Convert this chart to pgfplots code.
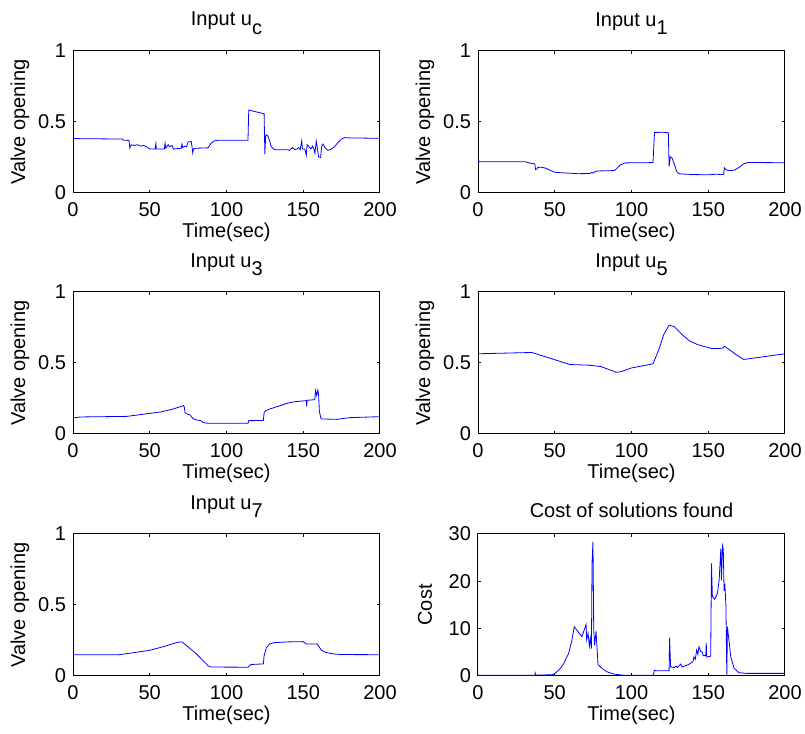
\documentclass[border=0pt]{standalone}
\usepackage{fontspec}
\setmainfont{Liberation Sans}
\usepackage{pgfplots}
\pgfplotsset{compat=1.18}
\definecolor{mblue}{rgb}{0,0,1}
\pgfplotsset{
  mstyle/.style={
    scale only axis, width=153.5pt, height=71pt,
    anchor=south west,
    xmin=0, xmax=200, ymin=0, ymax=1,
    xtick={0,50,100,150,200}, ytick={0,0.5,1},
    tick align=inside, major tick length=1.7pt,
    axis line style={line width=0.5pt},
    every tick/.style={black, line width=0.5pt},
    /pgf/number format/assume math mode=true,
    tick label style={font=\fontsize{10}{12}\selectfont},
    xticklabel style={anchor=base, yshift=-11.8pt},
    every axis title/.style={at={(axis description cs:0.5,1)}, anchor=south, inner sep=0pt, yshift=8pt, font=\fontsize{10}{12}\selectfont},
    every axis x label/.style={at={(axis description cs:0.5,0)}, anchor=base, yshift=-22.5pt, font=\fontsize{10}{12}\selectfont},
    every axis y label/.style={at={(axis description cs:0,0.5)}, xshift=-26.5pt, rotate=90, anchor=center, font=\fontsize{10}{12}\selectfont},
    xlabel={Time(sec)}, ylabel={Valve opening},
    no markers,
    cycle list={{mblue, line width=0.6pt}},
  }
}
\newcommand{\sub}[1]{\raisebox{-4.2pt}{#1}}
\begin{document}
\begin{tikzpicture}
\useasboundingbox (0,0) rectangle (402.5pt,367pt);
% u_c
\begin{axis}[mstyle, at={(36.5pt,270.5pt)}, title={Input u\sub{c}}]
\addplot coordinates {(0,0.39)(1,0.383)(32,0.38)(33,0.372)(36.5,0.37)(37,0.318)(38,0.34)(40,0.335)(42,0.34)(44,0.33)(46,0.335)(48,0.325)(50,0.31)(53.5,0.31)(54,0.348)(54.3,0.31)(59.5,0.31)(60,0.35)(60.5,0.315)(62,0.34)(63,0.325)(64.5,0.335)(65.5,0.31)(70.5,0.315)(71,0.345)(71.5,0.32)(73,0.33)(74,0.325)(75,0.36)(77,0.362)(77.5,0.33)(78,0.282)(78.5,0.31)(80,0.315)(88,0.318)(90,0.35)(92,0.367)(95,0.372)(114,0.372)(114.5,0.584)(116,0.58)(124.5,0.558)(125,0.273)(125.5,0.4)(126,0.41)(127,0.40)(128,0.37)(129,0.33)(130.5,0.31)(132,0.305)(140,0.305)(141,0.30)(143,0.32)(144.5,0.305)(146,0.31)(147,0.32)(148,0.305)(149,0.367)(149.5,0.31)(151,0.31)(152,0.266)(152.5,0.34)(153.5,0.33)(155,0.31)(156,0.33)(157,0.31)(157.6,0.28)(158.5,0.365)(159,0.33)(160,0.254)(161.3,0.25)(162,0.33)(163,0.345)(164,0.32)(166,0.30)(168.5,0.31)(170.7,0.33)(173,0.36)(175,0.38)(177,0.39)(180,0.388)(200,0.385)};
\end{axis}
% u_1
\begin{axis}[mstyle, at={(239pt,270.5pt)}, title={Input u\sub{1}}]
\addplot coordinates {(0,0.235)(1,0.22)(31,0.22)(34,0.21)(37,0.205)(37.5,0.165)(38.5,0.17)(39,0.18)(41,0.182)(44,0.175)(47,0.16)(50,0.146)(55,0.142)(65,0.136)(73,0.137)(74,0.145)(75,0.14)(76,0.15)(78,0.155)(89,0.158)(91,0.18)(93,0.2)(96,0.212)(114,0.214)(115,0.426)(120,0.428)(124,0.424)(124.5,0.188)(125.3,0.254)(126.5,0.245)(128,0.2)(129.5,0.15)(131,0.135)(140,0.13)(150,0.128)(155,0.132)(160,0.13)(160.5,0.178)(161.5,0.165)(163,0.158)(167,0.16)(170,0.18)(173,0.205)(176,0.215)(200,0.213)};
\end{axis}
% u_3
\begin{axis}[mstyle, at={(36.5pt,150pt)}, title={Input u\sub{3}}]
\addplot coordinates {(0,0.113)(5,0.12)(35,0.124)(45,0.138)(57,0.155)(65,0.175)(72,0.2)(72.5,0.19)(73,0.15)(74.5,0.14)(76,0.135)(77,0.125)(78,0.11)(80,0.1)(83,0.095)(85,0.08)(88,0.075)(114,0.075)(114.5,0.094)(124,0.095)(124.5,0.148)(125.5,0.165)(128,0.175)(135,0.2)(140,0.218)(145,0.228)(152,0.235)(152.2,0.195)(152.5,0.237)(157.5,0.242)(158,0.307)(158.8,0.27)(159.5,0.31)(160,0.28)(160.5,0.16)(161.5,0.11)(162,0.106)(172,0.103)(180,0.115)(200,0.122)};
\end{axis}
% u_5
\begin{axis}[mstyle, at={(239pt,150pt)}, title={Input u\sub{5}}]
\addplot coordinates {(0,0.565)(35,0.574)(48,0.53)(60,0.489)(72,0.485)(80,0.475)(90,0.435)(93,0.438)(100,0.465)(114,0.494)(118,0.6)(121,0.7)(124.5,0.767)(128,0.755)(133,0.7)(138,0.654)(143,0.63)(148,0.614)(152,0.603)(157,0.602)(159.5,0.605)(160.5,0.618)(163,0.6)(168,0.56)(173,0.525)(180,0.535)(200,0.565)};
\end{axis}
% u_7
\begin{axis}[mstyle, at={(36.5pt,29pt)}, title={Input u\sub{7}}]
\addplot coordinates {(0,0.149)(30,0.15)(40,0.165)(50,0.181)(60,0.21)(68,0.237)(71,0.24)(80,0.16)(88,0.072)(90,0.063)(114,0.062)(115,0.072)(116,0.081)(124,0.085)(124.5,0.142)(126,0.2)(128,0.225)(131,0.235)(140,0.24)(150,0.242)(152,0.225)(159,0.225)(160,0.21)(162,0.18)(165,0.165)(170,0.155)(175,0.151)(200,0.15)};
\end{axis}
% cost
\begin{axis}[mstyle, at={(239pt,29pt)}, ymax=30, ytick={0,10,20,30}, title={Cost of solutions found}, ylabel={Cost}]
\addplot coordinates {(0,0.15)(37,0.15)(37.3,0.6)(37.6,0.2)(48,0.25)(50,0.5)(53.6,1.57)(55.8,2.6)(59,4.75)(61.2,7.6)(62.7,10.4)(67.7,8.3)(70.4,10.9)(70.8,7.6)(71.7,9.0)(72.6,6.3)(73.2,8.0)(73.9,5.8)(74.3,23.9)(74.9,28.4)(75.4,9.6)(76,6.5)(76.9,9.5)(77.5,6.2)(78.2,2.4)(80.8,1.6)(84,0.9)(88.5,0.4)(95,0.15)(114.3,0.15)(114.8,1.2)(116,1.1)(124.5,1.1)(124.8,8.1)(125.5,1.9)(128,1.8)(129,2.1)(130,1.8)(132,2.5)(133,1.9)(137,2.4)(140,3.0)(140.7,4.0)(141.5,3.5)(142.5,5.5)(143.2,4.6)(144,6.2)(145,5.2)(146.2,5.0)(146.7,4.3)(148.4,4.3)(148.7,7.0)(149,4.0)(151.6,4.2)(152.1,23.8)(152.7,16.8)(154.2,16.2)(156,17.5)(157.1,20.2)(158.2,26.9)(158.6,20.2)(159.3,27.5)(159.8,26.8)(160.3,18)(160.8,19.5)(161.5,15)(162.1,0)(162.5,10.4)(164.7,4)(166.9,1.6)(170,0.7)(175,0.55)(200,0.55)};
\end{axis}
\end{tikzpicture}
\end{document}
